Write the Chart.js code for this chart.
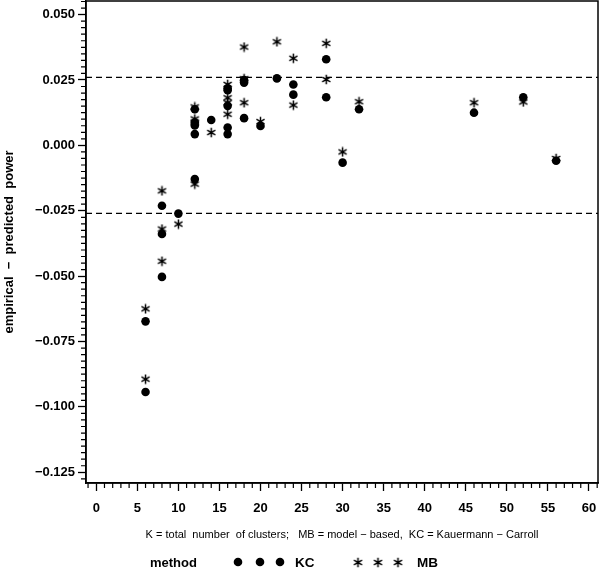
<!DOCTYPE html>
<html><head><meta charset="utf-8">
<script src="https://cdn.jsdelivr.net/npm/chart.js@4/dist/chart.umd.min.js"></script>
<style>
html,body{margin:0;padding:0;background:#fff;}
#wrap{position:relative;width:600px;height:569px;overflow:hidden;}
#c{position:absolute;left:0;top:0;}
.lg{position:absolute;font-family:"Liberation Sans",Arial,sans-serif;font-weight:bold;font-size:13px;line-height:15px;color:#000;white-space:nowrap;}
#lgm{position:absolute;left:228px;top:554px;}
</style></head><body>
<div id="wrap">
<canvas id="c" width="600" height="569"></canvas>
<div class="lg" style="left:150px;top:555px">method</div>
<canvas id="lgm" width="180" height="15"></canvas>
<div class="lg" style="left:295px;top:555px;font-size:13.5px">KC</div>
<div class="lg" style="left:417px;top:555px;font-size:13.5px">MB</div>
</div>
<script>
// ---- data ----
const kcX = [6,6, 8,8,8, 10, 12,12,12,12,12, 14, 16,16,16,16,16, 18,18,18, 20, 22, 24,24, 28,28, 30, 32, 46, 52, 56];
const kcY = [-0.0673,-0.0943, -0.0231,-0.0339,-0.0503, -0.0261,
             0.0138,0.0087,0.0076,0.0043,-0.0129, 0.0097,
             0.0218,0.0211,0.0151,0.0068,0.0043,
             0.0250,0.0240,0.0104, 0.0074, 0.0256, 0.0233,0.0194,
             0.0329,0.0184, -0.0066, 0.0138, 0.0125, 0.0184, -0.0059];
const mbX = [6,6, 8,8,8, 10, 12,12,12,12, 14, 16,16,16,16, 18,18,18, 20, 22, 24,24, 28,28, 30, 32, 46, 52, 56];
const mbY = [-0.0625,-0.0894, -0.0174,-0.0320,-0.0443, -0.0301,
             0.0147,0.0101,0.0089,-0.0148, 0.0049,
             0.0233,0.0182,0.0163,0.0119,
             0.0376,0.0255,0.0163, 0.0091, 0.0396, 0.0333,0.0154,
             0.0390,0.0252, -0.0025, 0.0167, 0.0163, 0.0166, -0.0050];
const refLevel = 0.026;
const xTickVals = [0,5,10,15,20,25,30,35,40,45,50,55,60];
const yTickVals = [-0.125,-0.100,-0.075,-0.050,-0.025,0.000,0.025,0.050];
const xMinorStep = 1, yMinorStep = 0.0025;
const xMin = -1.25, xMax = 61.1, yMin = -0.1291, yMax = 0.0552;
const xTitle = 'K = total  number  of clusters;   MB = model \u2212 based,  KC = Kauermann \u2212 Carroll';
const yTitle = 'empirical  \u2212  predicted  power';

const FONT = '"Liberation Sans", Arial, sans-serif';

function makeStar(size, lw){
  const c = document.createElement('canvas');
  c.width = size; c.height = size;
  const g = c.getContext('2d');
  const m = size/2, r = size/2 - 0.8;
  g.strokeStyle = '#000'; g.lineWidth = lw; g.lineCap = 'butt';
  g.beginPath();
  [90, 30, 150].forEach(a => {
    const t = a*Math.PI/180, dx = Math.cos(t)*r, dy = Math.sin(t)*r;
    g.moveTo(m-dx, m+dy); g.lineTo(m+dx, m-dy);
  });
  g.stroke();
  return c;
}
const star = makeStar(11, 1.5);

const pts = (xs, ys) => xs.map((x,i) => ({x, y: ys[i]}));

const framePlugin = {
  id: 'frameMinor',
  afterDraw(chart){
    const ctx = chart.ctx, a = chart.chartArea, xs = chart.scales.x, ys = chart.scales.y;
    ctx.save();
    ctx.strokeStyle = '#000';
    ctx.lineWidth = 1.2;
    ctx.beginPath();
    for (let k = Math.ceil(xs.min/xMinorStep); k*xMinorStep <= xs.max; k++){
      const v = k*xMinorStep;
      if (xTickVals.some(t => Math.abs(t-v) < 1e-9)) continue;
      const p = xs.getPixelForValue(v);
      ctx.moveTo(p, a.bottom); ctx.lineTo(p, a.bottom + 5);
    }
    for (let k = Math.ceil(ys.min/yMinorStep - 1e-9); k*yMinorStep <= ys.max + 1e-12; k++){
      const v = k*yMinorStep;
      if (yTickVals.some(t => Math.abs(t-v) < 1e-9)) continue;
      const p = ys.getPixelForValue(v);
      ctx.moveTo(a.left, p); ctx.lineTo(a.left - 5, p);
    }
    ctx.stroke();
    ctx.lineWidth = 1.5;
    ctx.strokeRect(a.left, a.top, a.right - a.left, a.bottom - a.top);
    ctx.restore();
  }
};

new Chart(document.getElementById('c'), {
  type: 'scatter',
  data: {
    datasets: [
      { label: 'ref+', data: [{x:xMin,y:refLevel},{x:xMax,y:refLevel}], showLine: true, pointRadius: 0,
        borderColor: '#000', borderWidth: 1.4, borderDash: [6,4] },
      { label: 'ref-', data: [{x:xMin,y:-refLevel},{x:xMax,y:-refLevel}], showLine: true, pointRadius: 0,
        borderColor: '#000', borderWidth: 1.4, borderDash: [6,4] },
      { label: 'KC', data: pts(kcX, kcY), pointStyle: 'circle', pointRadius: 4.3,
        backgroundColor: '#000', borderColor: '#000', borderWidth: 0 },
      { label: 'MB', data: pts(mbX, mbY), pointStyle: star, pointRadius: 5,
        backgroundColor: '#000', borderColor: '#000' }
    ]
  },
  options: {
    responsive: false, animation: false, events: [],
    layout: { autoPadding: false, padding: { left: 0, right: 2, top: 1, bottom: 27 } },
    plugins: { legend: { display: false }, tooltip: { enabled: false } },
    scales: {
      x: {
        type: 'linear', min: xMin, max: xMax,
        afterBuildTicks: s => { s.ticks = xTickVals.map(v => ({value: v})); },
        afterFit: s => { s.height = 59; s.paddingLeft = 0; s.paddingRight = 0; },
        ticks: { autoSkip: false, maxRotation: 0, padding: 10, color: '#000',
                 font: { family: FONT, size: 13, weight: 'bold' } },
        grid: { drawOnChartArea: false, tickLength: 8, tickWidth: 1.3, tickColor: '#000' },
        border: { color: '#000', width: 1.5 },
        title: { display: true, text: xTitle, color: '#000', padding: { top: 0, bottom: 0 },
                 font: { family: FONT, size: 11, weight: 'normal' } }
      },
      y: {
        type: 'linear', min: yMin, max: yMax,
        afterBuildTicks: s => { s.ticks = yTickVals.map(v => ({value: v})); },
        afterFit: s => { s.width = 86; s.paddingTop = 0; s.paddingBottom = 0; },
        ticks: { padding: 3, color: '#000', font: { family: FONT, size: 13, weight: 'bold' },
                 callback: v => (v < -1e-9 ? '\u2212' : '') + Math.abs(v).toFixed(3) },
        grid: { drawOnChartArea: false, tickLength: 8, tickWidth: 1.3, tickColor: '#000' },
        border: { color: '#000', width: 1.5 },
        title: { display: true, text: yTitle, color: '#000', padding: { top: 2, bottom: 0 },
                 font: { family: FONT, size: 13, weight: 'bold' } }
      }
    }
  },
  plugins: [framePlugin]
});

// legend markers
(function(){
  const c = document.getElementById('lgm'), g = c.getContext('2d');
  const base = 228, cy = 8;
  g.fillStyle = '#000';
  [238, 260, 280].forEach(x => { g.beginPath(); g.arc(x - base, cy, 4.3, 0, Math.PI*2); g.fill(); });
  [358, 378, 398].forEach(x => { g.drawImage(star, x - base - star.width/2, cy - star.height/2 + 0.5); });
})();
</script>
</body></html>
